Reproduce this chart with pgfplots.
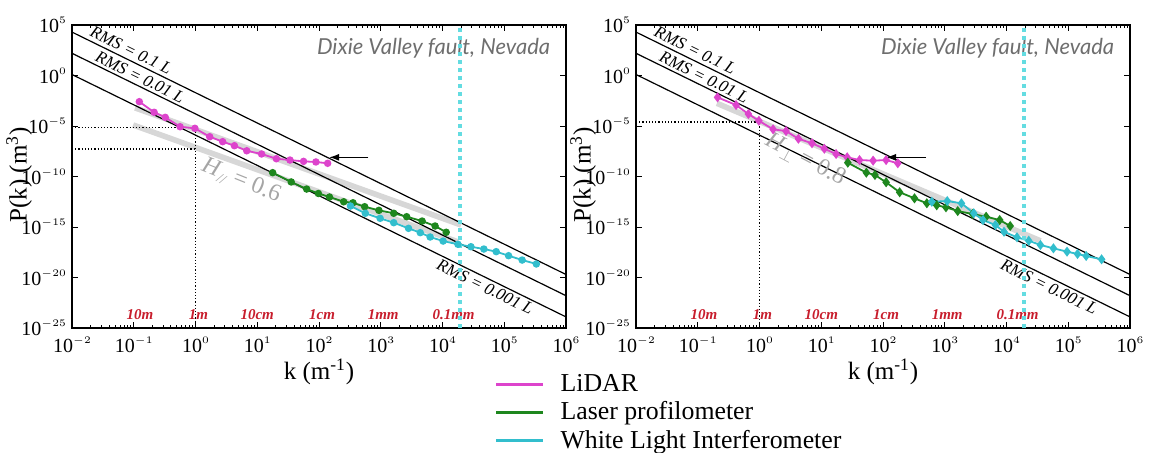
\documentclass[border=0pt]{standalone}
\usepackage{pgfplots}
\pgfplotsset{compat=1.18}
\usepackage{pgfplotstable}
\usepackage{fontspec}
\setmainfont{Liberation Serif}
\newfontfamily\labelsans{Lato}
\usetikzlibrary{arrows.meta}

\definecolor{lidar}{RGB}{221,68,204}
\definecolor{laser}{RGB}{30,135,30}
\definecolor{wli}{RGB}{50,190,205}
\definecolor{dotcyan}{RGB}{100,220,225}
\definecolor{scalered}{RGB}{200,30,45}
\definecolor{fitgray}{RGB}{215,215,215}
\definecolor{hgray}{RGB}{165,165,165}
\definecolor{titlegray}{RGB}{110,110,110}

% power-of-ten tick labels with a small raised exponent
\newcommand\pw[1]{10\raisebox{0.95ex}{\fontsize{5}{5}\selectfont$#1$}}

% spectra, stored as log10(k) and log10(P)
\pgfplotstableread{
lk lp
-0.91 -2.59
-0.67 -3.64
-0.49 -4.14
-0.25 -5.07
-0.01 -5.23
0.23 -6.06
0.44 -6.55
0.63 -6.95
0.83 -7.45
1.07 -7.77
1.31 -8.24
1.53 -8.37
1.75 -8.50
1.95 -8.56
2.14 -8.69
}\lidarpar
\pgfplotstableread{
lk lp
1.25 -9.62
1.55 -10.54
1.80 -11.24
1.99 -11.68
2.17 -12.03
2.40 -12.50
2.55 -12.60
2.74 -12.99
2.97 -13.35
3.21 -13.64
3.42 -13.98
3.67 -14.41
3.88 -14.90
4.06 -15.52
}\laserpar
\pgfplotstableread{
lk lp
2.51 -12.92
2.75 -13.64
2.99 -14.14
3.21 -14.57
3.45 -15.13
3.64 -15.56
3.80 -15.99
4.01 -16.39
4.25 -16.71
4.46 -16.95
4.67 -17.18
4.87 -17.44
5.07 -17.84
5.29 -18.27
5.52 -18.66
}\wlipar
\pgfplotstableread{
lk lp
-0.68 -2.16
-0.38 -2.92
-0.18 -3.81
-0.01 -4.48
0.22 -5.33
0.43 -5.50
0.63 -6.26
0.85 -6.71
1.05 -7.25
1.24 -7.77
1.42 -8.10
1.62 -8.37
1.84 -8.43
2.05 -8.37
2.24 -8.69
}\lidarperp
\pgfplotstableread{
lk lp
1.43 -8.63
1.73 -9.62
1.87 -9.85
2.05 -10.57
2.27 -11.56
2.51 -12.16
2.71 -12.65
2.87 -12.85
3.02 -13.05
3.21 -13.42
3.45 -13.71
3.67 -13.98
3.89 -14.31
4.06 -14.90
}\laserperp
\pgfplotstableread{
lk lp
2.79 -12.50
3.04 -12.43
3.27 -12.65
3.47 -13.64
3.62 -14.31
3.82 -14.80
3.96 -15.47
4.17 -16.02
4.36 -16.36
4.55 -16.78
4.76 -17.11
4.98 -17.44
5.15 -17.67
5.29 -17.87
5.54 -18.20
}\wliperp

\tikzset{
  rmslabel/.style={font=\fontsize{8.5}{8.5}\selectfont\itshape, rotate=-26.2, inner sep=1pt},
  scalelabel/.style={font=\fontsize{7.5}{7.5}\selectfont\bfseries\itshape, text=scalered},
  rmsline/.style={black, line width=0.6pt},
  fitband/.style={fitgray, line width=2.8pt},
  guide/.style={black, densely dotted, line width=0.6pt},
  spec/.style={line width=0.9pt, mark size=1.4pt},
}

\pgfplotsset{
  every axis/.append style={
    scale only axis, width=247pt, height=151.5pt,
    xmin=1e-2, xmax=1e6, ymin=1e-25, ymax=1e5,
    xtick={1e-2,1e-1,1,1e1,1e2,1e3,1e4,1e5,1e6},
    xticklabels={\pw{-2},\pw{-1},\pw{0},\pw{1},\pw{2},\pw{3},\pw{4},\pw{5},\pw{6}},
    minor xtick={2e-2,3e-2,4e-2,5e-2,6e-2,7e-2,8e-2,9e-2,
                 2e-1,3e-1,4e-1,5e-1,6e-1,7e-1,8e-1,9e-1,
                 2,3,4,5,6,7,8,9,
                 20,30,40,50,60,70,80,90,
                 200,300,400,500,600,700,800,900,
                 2e3,3e3,4e3,5e3,6e3,7e3,8e3,9e3,
                 2e4,3e4,4e4,5e4,6e4,7e4,8e4,9e4,
                 2e5,3e5,4e5,5e5,6e5,7e5,8e5,9e5},
    ytick={1e-25,1e-20,1e-15,1e-10,1e-5,1,1e5},
    yticklabels={\pw{-25},\pw{-20},\pw{-15},\pw{-10},\pw{-5},\pw{0},\pw{5}},
    yminorticks=false,
    tick align=inside, xtick pos=both, ytick pos=both,
    major tick length=3pt, minor tick length=1.6pt,
    every tick/.style={black, line width=0.5pt},
    axis line style={line width=0.7pt},
    tick label style={font=\fontsize{10}{10}\selectfont},
    xticklabel style={yshift=-1pt},
    yticklabel style={xshift=0.5pt},
    label style={font=\fontsize{12.5}{12.5}\selectfont},
    xlabel={k (m\textsuperscript{-1})},
    ylabel={P(k) (m\textsuperscript{3})},
    xlabel style={at={(axis description cs:0.5,-0.145)}, anchor=center},
    ylabel style={at={(axis description cs:-0.107,0.505)}, anchor=center},
  },
}

\newcommand\commonlayers{%
  % RMS reference lines, P ~ k^-3
  \addplot[rmsline, forget plot] coordinates {(1e-2,1.995e4) (1e6,1.995e-20)};
  \addplot[rmsline, forget plot] coordinates {(1e-2,158.5) (1e6,1.585e-22)};
  \addplot[rmsline, forget plot] coordinates {(1e-2,1.259) (1e6,1.259e-24)};
  \node[rmslabel] at (axis cs:0.0904,331) {RMS = 0.1 L};
  \node[rmslabel] at (axis cs:0.1264,0.71) {RMS = 0.01 L};
  \node[rmslabel] at (axis cs:4.9e4,1.15e-21) {RMS = 0.001 L};
  % wavelength scale
  \node[scalelabel] at (axis cs:0.126,2e-24) {10m};
  \node[scalelabel] at (axis cs:1.12,2e-24) {1m};
  \node[scalelabel] at (axis cs:10,2e-24) {10cm};
  \node[scalelabel] at (axis cs:112,2e-24) {1cm};
  \node[scalelabel] at (axis cs:1096,2e-24) {1mm};
  \node[scalelabel] at (axis cs:1.51e4,2e-24) {0.1mm};
  \node[anchor=east, font=\labelsans\itshape\fontsize{11}{11}\selectfont, text=titlegray]
    at (rel axis cs:0.982,0.924) {Dixie Valley fault, Nevada};
}

\begin{document}
\begin{tikzpicture}
\useasboundingbox (0,0) rectangle (575pt,226pt);

% ---------------- parallel to slip ----------------
\begin{loglogaxis}[at={(36pt,62pt)}, anchor=south west,
  legend style={draw=none, fill=none, at={(axis description cs:0.855,-0.138)},
    anchor=north west, font=\fontsize{12.9}{14}\selectfont, row sep=-0.3pt,
    column sep=6pt, inner sep=0pt},
  legend cell align=left,
  legend image code/.code={\draw[#1, line width=1.4pt] (0pt,0pt) -- (23.5pt,0pt);},
]
  \addplot[fitband, forget plot] coordinates {(0.0977,1.26e-5) (1.78e4,3.39e-17)};
  \addplot[fitband, forget plot] coordinates {(0.105,6.3e-4) (2e4,1.58e-15)};
  \commonlayers
  \addplot[guide, forget plot] coordinates {(1e-2,7.4e-6) (1,7.4e-6) (1,1e-25)};
  \addplot[guide, forget plot] coordinates {(1e-2,5.2e-8) (1,5.2e-8)};
  \node[font=\fontsize{12}{12}\selectfont, text=hgray, rotate=-22]
    at (axis cs:5.5,3.5e-11) {\textit{H}\raisebox{-0.4ex}{\fontsize{7}{7}\selectfont\textit{//}} = 0.6};
  \draw[-{Latex[length=5pt,width=3.5pt]}, line width=0.6pt] (axis cs:631,7.9e-9) -- (axis cs:146,7.9e-9);
  \addplot[spec, lidar, mark=*, forget plot] table[x expr={10^\thisrow{lk}}, y expr={10^\thisrow{lp}}] {\lidarpar};
  \addplot[spec, laser, mark=*, forget plot] table[x expr={10^\thisrow{lk}}, y expr={10^\thisrow{lp}}] {\laserpar};
  \addplot[spec, wli, mark=*, forget plot] table[x expr={10^\thisrow{lk}}, y expr={10^\thisrow{lp}}] {\wlipar};
  \addplot[dotcyan, line width=2pt, dotted, forget plot] coordinates {(1.95e4,1e-25) (1.95e4,1e5)};
  \addlegendimage{lidar}
  \addlegendentry{LiDAR}
  \addlegendimage{laser}
  \addlegendentry{Laser profilometer}
  \addlegendimage{wli}
  \addlegendentry{White Light Interferometer}
\end{loglogaxis}

% ---------------- perpendicular to slip ----------------
\begin{loglogaxis}[at={(318pt,62pt)}, anchor=south west]
  \addplot[fitband, forget plot] coordinates {(0.204,1.78e-3) (3.55e4,4.27e-17)};
  \commonlayers
  \addplot[guide, forget plot] coordinates {(1e-2,2.5e-5) (1,2.5e-5) (1,1e-25)};
  \node[font=\fontsize{12}{12}\selectfont, text=hgray, rotate=-28]
    at (axis cs:5.5,4.3e-9) {\textit{H}\raisebox{-0.4ex}{\fontsize{8}{8}\selectfont$\perp$} = 0.8};
  \draw[-{Latex[length=5pt,width=3.5pt]}, line width=0.6pt] (axis cs:501,7.9e-9) -- (axis cs:112,7.9e-9);
  \addplot[spec, lidar, mark=diamond*, mark size=1.8pt, forget plot] table[x expr={10^\thisrow{lk}}, y expr={10^\thisrow{lp}}] {\lidarperp};
  \addplot[spec, laser, mark=diamond*, mark size=1.8pt, forget plot] table[x expr={10^\thisrow{lk}}, y expr={10^\thisrow{lp}}] {\laserperp};
  \addplot[spec, wli, mark=diamond*, mark size=1.8pt, forget plot] table[x expr={10^\thisrow{lk}}, y expr={10^\thisrow{lp}}] {\wliperp};
  \addplot[dotcyan, line width=2pt, dotted, forget plot] coordinates {(1.95e4,1e-25) (1.95e4,1e5)};
\end{loglogaxis}
\end{tikzpicture}
\end{document}
